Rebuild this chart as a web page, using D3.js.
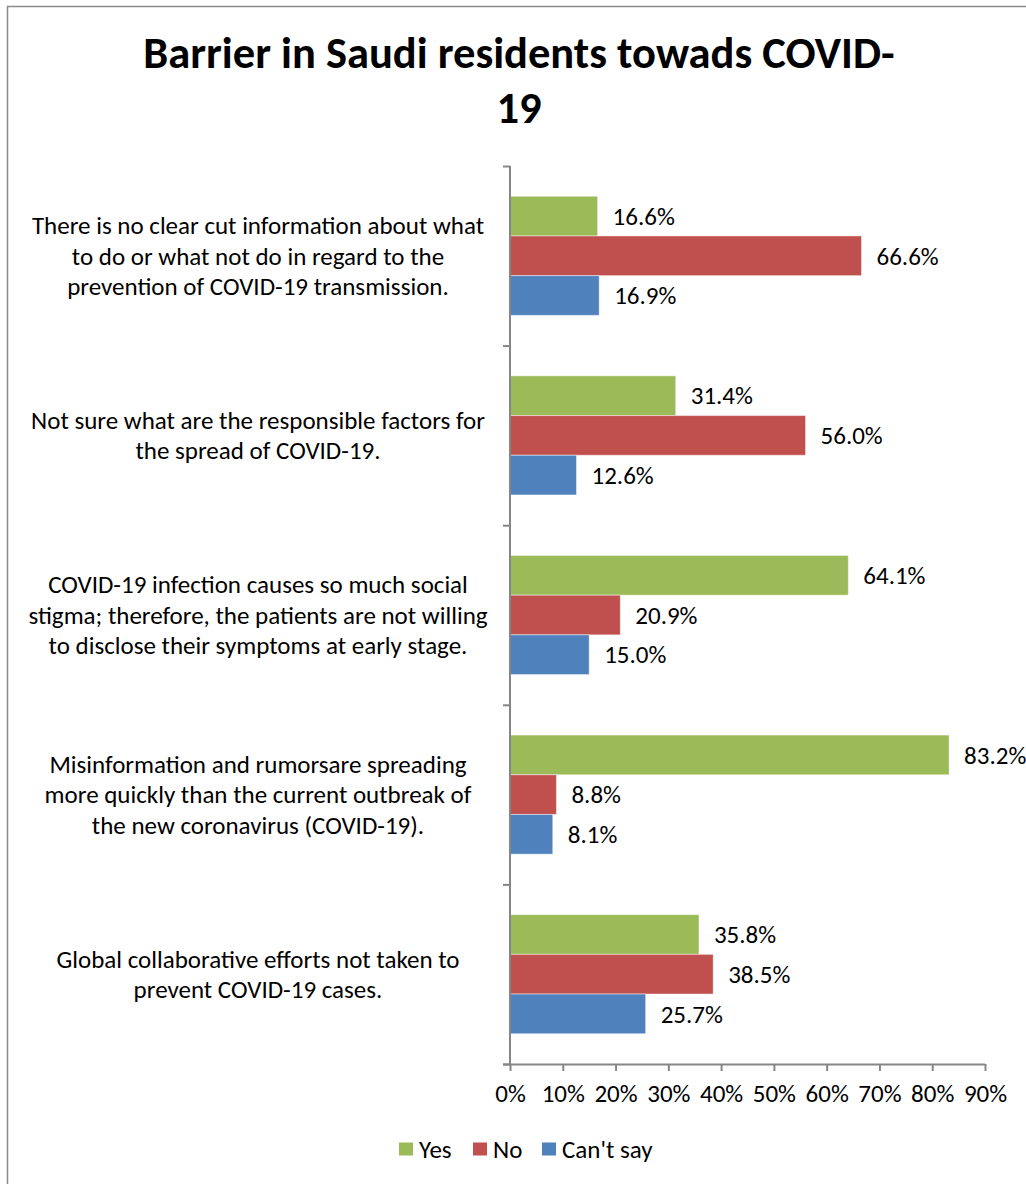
<!DOCTYPE html>
<html>
<head>
<meta charset="utf-8">
<script src="https://cdn.jsdelivr.net/npm/d3@7"></script>
<style>
  html, body { margin: 0; padding: 0; background: #fff; }
  svg { display: block; }
  text { font-family: Carlito, Calibri, Lato, sans-serif; fill: #000; }
</style>
</head>
<body>
<svg id="chart" width="1026" height="1184"></svg>
<script>
// Survey barriers, share of answers per statement
const categories = [
  "There is no clear cut information about what\nto do or what not do in regard to the\nprevention of COVID-19 transmission.",
  "Not sure what are the responsible factors for\nthe spread of COVID-19.",
  "COVID-19 infection causes so much social\nstigma; therefore, the patients are not willing\nto disclose their symptoms at early stage.",
  "Misinformation and rumorsare spreading\nmore quickly than the current outbreak of\nthe new coronavirus (COVID-19).",
  "Global collaborative efforts not taken to\nprevent COVID-19 cases."
];
const seriesNames = ["Yes", "No", "Can't say"];
const yesValues = [16.6, 31.4, 64.1, 83.2, 35.8];
const noValues = [66.6, 56.0, 20.9, 8.8, 38.5];
const cantSayValues = [16.9, 12.6, 15.0, 8.1, 25.7];
const seriesColors = ["#9BBB59", "#C0504D", "#4F81BD"];
const xTicks = [0, 10, 20, 30, 40, 50, 60, 70, 80, 90];
const titleLines = ["Barrier in Saudi residents towads COVID-", "19"];

const seriesValues = [yesValues, noValues, cantSayValues];

const svg = d3.select("#chart");
const FS = 25;          // body text size
const axisColor = "#868686";

// outer chart frame (top and left edges are inside the canvas)
svg.append("path")
  .attr("d", "M7.5,1184 L7.5,6.5 L1026,6.5")
  .attr("fill", "none")
  .attr("stroke", "#8a8a8a")
  .attr("stroke-width", 1.5);

// title
const title = svg.append("text")
  .attr("text-anchor", "middle")
  .attr("font-weight", "bold")
  .attr("font-size", 44.5);
titleLines.forEach((t, i) => {
  title.append("tspan").attr("x", 519).attr("y", 68 + i * 55).text(t);
});

// plot area
const plot = { left: 510, right: 985, top: 166, bottom: 1064 };

const x = d3.scaleLinear().domain([0, 90]).range([plot.left, plot.right]);
const y = d3.scaleBand().domain(d3.range(categories.length))
  .range([plot.top, plot.bottom]).paddingInner(0).paddingOuter(0);
const step = y.step();
const barH = step * 0.221;
const inner = d3.scaleBand().domain(d3.range(seriesNames.length))
  .range([(step - 3 * barH) / 2, (step + 3 * barH) / 2]);

// bars
const groups = svg.append("g").selectAll("g")
  .data(categories.map((c, i) => i))
  .join("g")
  .attr("transform", i => `translate(0,${y(i)})`);

groups.each(function (ci) {
  const g = d3.select(this);
  seriesValues.forEach((vals, si) => {
    const v = vals[ci];
    g.append("rect")
      .attr("x", x(0))
      .attr("y", inner(si))
      .attr("width", x(v) - x(0))
      .attr("height", inner.bandwidth())
      .attr("fill", seriesColors[si])
      .attr("stroke", "#ffffff")
      .attr("stroke-opacity", 0.45)
      .attr("stroke-width", 1);
    g.append("text")
      .attr("x", x(v) + 15)
      .attr("y", inner(si) + inner.bandwidth() / 2)
      .attr("dy", "0.35em")
      .attr("font-size", FS)
      .text(v.toFixed(1) + "%");
  });
});

// x axis
const xAxis = svg.append("g")
  .attr("transform", `translate(0,${plot.bottom})`)
  .call(d3.axisBottom(x).tickValues(xTicks).tickSize(7).tickPadding(13)
    .tickFormat(d => d + "%"));
xAxis.select(".domain").attr("stroke", axisColor).attr("stroke-width", 2)
  .attr("d", `M${plot.left - 7},0.5H${plot.right}`);
xAxis.selectAll(".tick line").attr("stroke", axisColor).attr("stroke-width", 2);
xAxis.selectAll(".tick text")
  .attr("font-size", FS)
  .attr("font-family", "Carlito, Calibri, Lato, sans-serif")
  .attr("fill", "#000");

// y axis: ticks on category boundaries
const yAxisScale = d3.scaleLinear().domain([0, categories.length]).range([plot.top, plot.bottom]);
const yAxis = svg.append("g")
  .attr("transform", `translate(${plot.left},0)`)
  .call(d3.axisLeft(yAxisScale).tickValues(d3.range(categories.length + 1))
    .tickSize(7).tickFormat(""));
yAxis.select(".domain").attr("stroke", axisColor).attr("stroke-width", 2)
  .attr("d", `M0,${plot.top}V${plot.bottom}`);
yAxis.selectAll(".tick line").attr("stroke", axisColor).attr("stroke-width", 2);

// category labels
const catLabels = svg.append("g");
categories.forEach((c, i) => {
  const lines = c.split("\n");
  const cy = y(i) + step / 2;
  const lh = 30.5;
  const t = catLabels.append("text")
    .attr("text-anchor", "middle")
    .attr("font-size", FS);
  lines.forEach((ln, k) => {
    t.append("tspan")
      .attr("x", 258)
      .attr("y", cy + (k - (lines.length - 1) / 2) * lh)
      .attr("dy", "0.35em")
      .text(ln);
  });
});

// legend
const legendItems = [
  { name: seriesNames[0], color: seriesColors[0], x: 399 },
  { name: seriesNames[1], color: seriesColors[1], x: 473 },
  { name: seriesNames[2], color: seriesColors[2], x: 542 }
];
const legend = svg.append("g");
legendItems.forEach(it => {
  legend.append("rect")
    .attr("x", it.x).attr("y", 1142.5)
    .attr("width", 14).attr("height", 13)
    .attr("fill", it.color);
  legend.append("text")
    .attr("x", it.x + 20).attr("y", 1149)
    .attr("dy", "0.35em")
    .attr("font-size", FS)
    .text(it.name);
});
</script>
</body>
</html>
